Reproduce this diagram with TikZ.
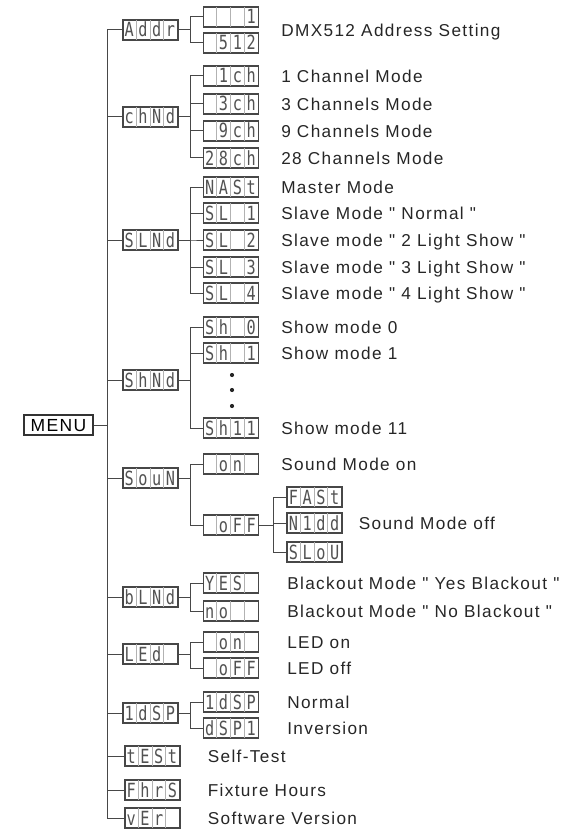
\documentclass[tikz,border=0pt]{standalone}
\usepackage{fontspec}
\usepackage{tikz}
\usetikzlibrary{positioning,calc}
\newfontfamily\lblfont[LetterSpace=8]{Liberation Sans}
\newfontfamily\lcdfont[FakeStretch=0.78]{DejaVu Sans Mono}
\tikzset{
  tree/.style={draw=black!72, line width=1pt},
  lcdbox/.style={rectangle, draw=black!72, line width=1.1pt, minimum width=55pt, minimum height=20pt, inner sep=0pt},
  lcdgrid/.style={draw=black!30, line width=0.7pt, shorten <=0.6pt, shorten >=0.6pt},
  lcdchar/.style={font=\lcdfont\fontsize{19.5}{19.5}\selectfont, text=black!68, inner sep=0pt, text height=14pt, text depth=0pt},
  lbl/.style={font=\lblfont\fontsize{17.2}{20}\selectfont, text=black!85, inner sep=0pt, anchor=west, text height=12.3pt, text depth=0pt},
  menubox/.style={rectangle, draw=black!80, line width=1.1pt, minimum width=69pt, minimum height=20pt, inner sep=0pt,
    font=\lblfont\fontsize{17.5}{20}\selectfont, text height=12.5pt, text depth=0pt}
}
% one display: name, position, four cells
\newcommand{\lcd}[3]{%
  \node[lcdbox] (#1) at #2 {};
  \foreach \ch [count=\i] in {#3}
    \node[lcdchar] (#1-\i) at ($(#1.west)+(\i*13.75-6.875,0)$) {\ch};
  \foreach \i in {1,2,3}
    \draw[lcdgrid] ($(#1.south west)+(\i*13.75,0)$) -- ($(#1.north west)+(\i*13.75,0)$);
}

\begin{document}
\begin{tikzpicture}[x=1pt, y=-1pt]
\useasboundingbox (0,0) rectangle (566,829);
\node[menubox] (menu) at (58.5,425) {MENU};

% first level
\lcd{addr}{(150.5,30)}{A,d,d,r}
\lcd{chnd}{(150.5,117)}{c,h,N,d}
\lcd{slnd}{(150.5,240)}{S,L,N,d}
\lcd{shnd}{(150.5,380)}{S,h,N,d}
\lcd{soun}{(150.5,478)}{S,o,u,N}
\lcd{blnd}{(150.5,597)}{b,L,N,d}
\lcd{led}{(150.5,654)}{L,E,d,~}
\lcd{idsp}{(150.5,713)}{1,d,S,P}
\lcd{test}{(152.5,756)}{t,E,S,t}
\lcd{fhrs}{(152.5,790)}{F,h,r,S}
\lcd{ver}{(152.5,818)}{v,E,r,~}
\foreach \n in {addr,chnd,slnd,shnd,soun,blnd,led,idsp,test,fhrs,ver}
  \draw[tree] (menu.east) -- ++(14,0) |- (\n.west);

% second level
\lcd{a1}{(231,17)}{~,~,~,1}
\lcd{a2}{(231,43)}{~,5,1,2}
\lcd{c1}{(231,76)}{~,1,c,h}
\lcd{c3}{(231,104)}{~,3,c,h}
\lcd{c9}{(231,131)}{~,9,c,h}
\lcd{c28}{(231,158)}{2,8,c,h}
\lcd{mast}{(231,187)}{N,A,S,t}
\lcd{sl1}{(231,213)}{S,L,~,1}
\lcd{sl2}{(231,240)}{S,L,~,2}
\lcd{sl3}{(231,267)}{S,L,~,3}
\lcd{sl4}{(231,293)}{S,L,~,4}
\lcd{sh0}{(231,327)}{S,h,~,0}
\lcd{sh1}{(231,353)}{S,h,~,1}
\lcd{sh11}{(231,428)}{S,h,1,1}
\lcd{son}{(231,464)}{~,o,n,~}
\lcd{soff}{(231,525)}{~,o,F,F}
\lcd{yes}{(231,583)}{Y,E,S,~}
\lcd{no}{(231,611)}{n,o,~,~}
\lcd{lon}{(231,642)}{~,o,n,~}
\lcd{loff}{(231,668)}{~,o,F,F}
\lcd{idsp2}{(231,702)}{1,d,S,P}
\lcd{dspi}{(231,728)}{d,S,P,1}
\foreach \n in {a1,a2} \draw[tree] (addr.east) -- ++(12,0) |- (\n.west);
\foreach \n in {c1,c3,c9,c28} \draw[tree] (chnd.east) -- ++(12,0) |- (\n.west);
\foreach \n in {mast,sl1,sl2,sl3,sl4} \draw[tree] (slnd.east) -- ++(12,0) |- (\n.west);
\foreach \n in {sh0,sh1,sh11} \draw[tree] (shnd.east) -- ++(12,0) |- (\n.west);
\foreach \n in {son,soff} \draw[tree] (soun.east) -- ++(12,0) |- (\n.west);
\foreach \n in {yes,no} \draw[tree] (blnd.east) -- ++(12,0) |- (\n.west);
\foreach \n in {lon,loff} \draw[tree] (led.east) -- ++(12,0) |- (\n.west);
\foreach \n in {idsp2,dspi} \draw[tree] (idsp.east) -- ++(12,0) |- (\n.west);
\foreach \y in {375,390,406} \fill[black!85] (232,\y) circle (2.1pt);

% third level
\lcd{fast}{(314.5,497)}{F,A,S,t}
\lcd{midd}{(314.5,523)}{N,1,d,d}
\lcd{slow}{(314.5,552)}{S,L,o,U}
\foreach \n in {fast,midd,slow} \draw[tree] (soff.east) -- ++(14,0) |- (\n.west);

% texts
\coordinate (addr-mid) at (a1.east |- addr);
\node[lbl, right=22pt of addr-mid] (t-addr) {DMX512 Address Setting};
\node[lbl, right=22pt of c1] (t-c1) {1 Channel Mode};
\node[lbl, right=22pt of c3] (t-c3) {3 Channels Mode};
\node[lbl, right=22pt of c9] (t-c9) {9 Channels Mode};
\node[lbl, right=22pt of c28] (t-c28) {28 Channels Mode};
\node[lbl, right=22pt of mast] (t-mast) {Master Mode};
\node[lbl, right=22pt of sl1] (t-sl1) {Slave Mode " Normal "};
\node[lbl, right=22pt of sl2] (t-sl2) {Slave mode " 2 Light Show "};
\node[lbl, right=22pt of sl3] (t-sl3) {Slave mode " 3 Light Show "};
\node[lbl, right=22pt of sl4] (t-sl4) {Slave mode " 4 Light Show "};
\node[lbl, right=22pt of sh0] (t-sh0) {Show mode 0};
\node[lbl, right=22pt of sh1] (t-sh1) {Show mode 1};
\node[lbl, right=22pt of sh11] (t-sh11) {Show mode 11};
\node[lbl, right=22pt of son] (t-son) {Sound Mode on};
\node[lbl, right=16pt of midd] (t-soff) {Sound Mode off};
\node[lbl, right=28pt of yes] (t-yes) {Blackout Mode " Yes Blackout "};
\node[lbl, right=28pt of no] (t-no) {Blackout Mode " No Blackout "};
\node[lbl, right=28pt of lon] (t-lon) {LED on};
\node[lbl, right=28pt of loff] (t-loff) {LED off};
\node[lbl, right=28pt of idsp2] (t-idsp) {Normal};
\node[lbl, right=28pt of dspi] (t-dspi) {Inversion};
\node[lbl, right=27pt of test] (t-test) {Self-Test};
\node[lbl, right=27pt of fhrs] (t-fhrs) {Fixture Hours};
\node[lbl, right=27pt of ver] (t-ver) {Software Version};
\end{tikzpicture}
\end{document}
